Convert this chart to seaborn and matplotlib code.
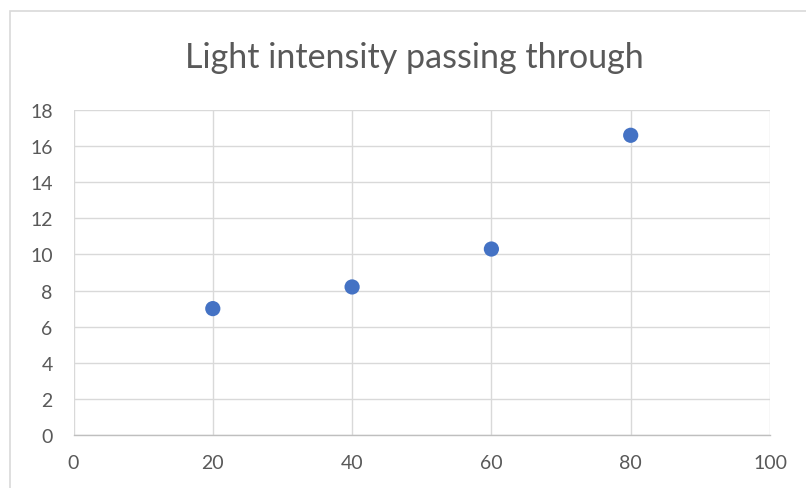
import matplotlib
matplotlib.use("Agg")
import matplotlib.pyplot as plt
import seaborn as sns
import pandas as pd
from matplotlib.patches import Rectangle

# data
thickness = [20, 40, 60, 80]
intensity = [7.0, 8.2, 10.3, 16.6]
x_ticks = [0, 20, 40, 60, 80, 100]
y_ticks = [0, 2, 4, 6, 8, 10, 12, 14, 16, 18]
title = "Light intensity passing through"

df = pd.DataFrame({"x": thickness, "y": intensity})

sns.set_theme(style="white")
plt.rcParams['font.family'] = ['Lato', 'DejaVu Sans']

fig = plt.figure(figsize=(8.06, 4.89), dpi=100)
fig.patch.set_facecolor("white")
# outer chart border (cut at right/bottom like the screenshot)
fig.patches.append(Rectangle((10 / 806, -0.1), 1.2, 1 - 12 / 489 + 0.1,
                             transform=fig.transFigure, fill=False,
                             edgecolor="#D9D9D9", linewidth=1.2))

ax = fig.add_axes([73.5 / 806, 1 - 436 / 489, (770 - 73.5) / 806, (436 - 111) / 489])
sns.scatterplot(data=df, x="x", y="y", ax=ax, color="#4472C4", s=120,
                edgecolor="none", zorder=3)

ax.set_xlim(0, 100)
ax.set_ylim(0, 18)
ax.set_xticks(x_ticks)
ax.set_yticks(y_ticks)
ax.grid(True, color="#D9D9D9", linewidth=1.0)
ax.set_axisbelow(True)
for s in ["left", "top", "right"]:
    ax.spines[s].set_visible(False)
ax.spines["bottom"].set_color("#BFBFBF")
ax.spines["bottom"].set_linewidth(1.0)
ax.tick_params(axis="both", length=0, labelsize=14, labelcolor="#595959")
ax.tick_params(axis="y", pad=15)
ax.tick_params(axis="x", pad=14)
ax.set_xlabel("")
ax.set_ylabel("")

fig.text(414 / 806, 1 - 58 / 489, title, ha="center", va="center",
         fontsize=24.5, color="#595959")

fig.savefig("out.png", dpi=100)
